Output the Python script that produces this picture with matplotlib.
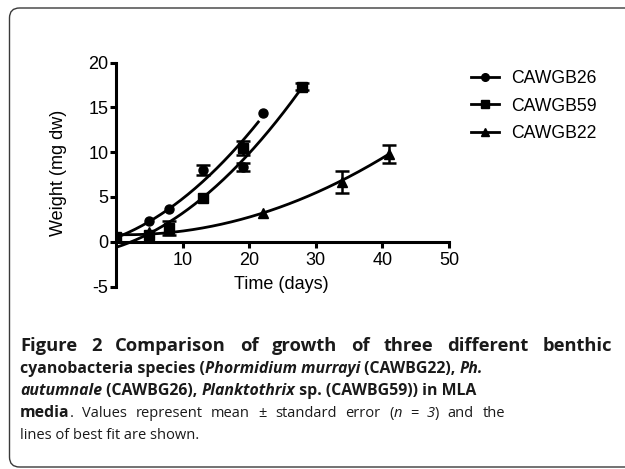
import numpy as np
import matplotlib
matplotlib.use("Agg")
import matplotlib.pyplot as plt
from matplotlib.patches import FancyBboxPatch
from matplotlib.font_manager import FontProperties

# ---- data ----
series_names = ["CAWGB26", "CAWGB59", "CAWGB22"]

x26 = [0, 5, 8, 13, 19, 22]
y26 = [0.5, 2.3, 3.65, 8.0, 8.4, 14.4]
e26 = [0, 0, 0, 0.6, 0.45, 0]

x59 = [0, 5, 8, 13, 19, 28]
y59 = [0.55, 0.8, 1.5, 4.9, 10.5, 17.3]
e59 = [0, 0, 0.8, 0, 0.8, 0.4]

x22 = [0, 5, 8, 22, 34, 41]
y22 = [0.8, 1.1, 1.3, 3.2, 6.7, 9.8]
e22 = [0, 0, 0, 0, 1.25, 1.05]

# best-fit curves (start, middle, end of each fitted line)
fitx26 = [0, 13, 21.5]
fity26 = [0.45, 6.7, 13.5]
fitx59 = [0, 13, 28]
fity59 = [-0.63, 4.9, 17.3]
fitx22 = [0, 22, 41]
fity22 = [0.8, 3.2, 9.8]

xticks = [10, 20, 30, 40, 50]
yticks = [-5, 0, 5, 10, 15, 20]

W, H = 625, 469
fig = plt.figure(figsize=(W / 100, H / 100), dpi=100)
plt.rcParams['font.family'] = ['Liberation Sans', 'DejaVu Sans']

ax = fig.add_axes([116 / W, 1 - 286.5 / H, 333 / W, (286.5 - 62.7) / H])
ax.set_xlim(0, 50)
ax.set_ylim(-5, 20)

lw = 2.0
ms = 6.5
groups = [(x26, y26, e26, fitx26, fity26, "o", series_names[0]),
          (x59, y59, e59, fitx59, fity59, "s", series_names[1]),
          (x22, y22, e22, fitx22, fity22, "^", series_names[2])]
for xs, ys, es, fx, fy, m, name in groups:
    xs = np.array(xs, float); ys = np.array(ys, float); es = np.array(es, float)
    coef = np.polyfit(fx, fy, 2)
    xf = np.linspace(fx[0], fx[-1], 200)
    ax.plot(xf, np.polyval(coef, xf), color="black", lw=lw, solid_capstyle="butt", zorder=2)
    ax.plot(xs, ys, ls="none", marker=m, ms=ms, color="black", zorder=3)
    sel = es > 0
    ax.errorbar(xs[sel], ys[sel], yerr=es[sel], fmt="none", ecolor="black",
                elinewidth=1.8, capsize=5, capthick=1.8, zorder=3)
    ax.plot([], [], color="black", lw=lw, marker=m, ms=ms - 1, label=name)

for s in ["top", "right"]:
    ax.spines[s].set_visible(False)
ax.spines["bottom"].set_position(("data", 0))
ax.spines["left"].set_linewidth(2.2)
ax.spines["bottom"].set_linewidth(2.2)
ax.set_xticks(xticks)
ax.set_yticks(yticks)
ax.set_yticklabels([str(v) for v in yticks])
ax.tick_params(axis="both", direction="out", length=4, width=2.2, labelsize=13, pad=1.5)
ax.tick_params(axis="x", pad=3.2)
ax.set_xlabel("Time (days)", fontsize=13)
ax.set_ylabel("Weight (mg dw)", fontsize=13)
ax.xaxis.set_label_coords(0.4976, (469 - 284 - 182.5) / (286.5 - 62.7))
ax.yaxis.set_label_coords((59 - 116) / 333, (469 - 173 - 182.5) / (286.5 - 62.7))
ax.xaxis.label.set_va("center")
ax.yaxis.label.set_va("center")

handles, labels = ax.get_legend_handles_labels()
fig.legend(handles, labels, loc="upper left", bbox_to_anchor=(471 / W, 1 - 70 / H),
           frameon=False, fontsize=12.7, borderpad=0, borderaxespad=0,
           handlelength=1.59, handletextpad=0.68, labelspacing=0.6)

# ---- border ----
box = FancyBboxPatch((0.095, 0.02), 6.5, 4.59,
                     boxstyle="round,pad=0,rounding_size=0.1",
                     transform=fig.dpi_scale_trans, fill=False,
                     edgecolor="#3a3a3a", lw=1.0, clip_on=False)
fig.add_artist(box)

# ---- caption ----
cap_family = 'Open Sans'
lines = [
    [("Figure 2 Comparison of growth of three different benthic", "bold", "normal")],
    [("cyanobacteria species (", "bold", "normal"), ("Phormidium murrayi", "bold", "italic"),
     (" (CAWBG22), ", "bold", "normal"), ("Ph.", "bold", "italic")],
    [("autumnale", "bold", "italic"), (" (CAWBG26), ", "bold", "normal"),
     ("Planktothrix", "bold", "italic"), (" sp. (CAWBG59)) in MLA", "bold", "normal")],
    [("media", "bold", "normal"), (". Values represent mean \u00b1 standard error (", "normal", "normal"),
     ("n", "normal", "italic"), (" = ", "normal", "normal"), ("3", "normal", "italic"),
     (") and the", "normal", "normal")],
    [("lines of best fit are shown.", "normal", "normal")],
]
line_right = [612, None, None, 505, None]   # right edge of justified lines
line_bsize = [13.2, 11.4, 11.4, 11.4, 11.4]
rsize = 10.5
baselines = [351, 373, 395, 417, 439]
x0 = 20
r = fig.canvas.get_renderer()


def props(wt, st, bs):
    return FontProperties(family=[cap_family, 'DejaVu Sans'], weight=wt, style=st,
                          size=bs if wt == "bold" else rsize)


def width(txt, wt, st, bs):
    t = fig.text(0, 0, txt, fontproperties=props(wt, st, bs))
    w = t.get_window_extent(renderer=r).width
    t.remove()
    return w


def split_words(segs):
    words = [[]]
    for txt, wt, st in segs:
        parts = txt.split(" ")
        for i, p in enumerate(parts):
            if i > 0:
                words.append([])
            if p:
                words[-1].append((p, wt, st))
    return [w for w in words if w]


for segs, yb, xr, bs in zip(lines, baselines, line_right, line_bsize):
    yf = 1 - yb / H
    if xr is None:
        xcur = x0
        for txt, wt, st in segs:
            t = fig.text(xcur / W, yf, txt, fontproperties=props(wt, st, bs),
                         ha="left", va="baseline", color="#1a1a1a")
            xcur += t.get_window_extent(renderer=r).width
    else:
        words = split_words(segs)
        wwidths = [[width(p, wt, st, bs) for p, wt, st in w] for w in words]
        total = sum(sum(ws) for ws in wwidths)
        gap = ((xr - x0) - total) / (len(words) - 1)
        xcur = x0
        for w, ws in zip(words, wwidths):
            for (p, wt, st), pw in zip(w, ws):
                fig.text(xcur / W, yf, p, fontproperties=props(wt, st, bs),
                         ha="left", va="baseline", color="#1a1a1a")
                xcur += pw
            xcur += gap

fig.savefig("out.png", dpi=100)
